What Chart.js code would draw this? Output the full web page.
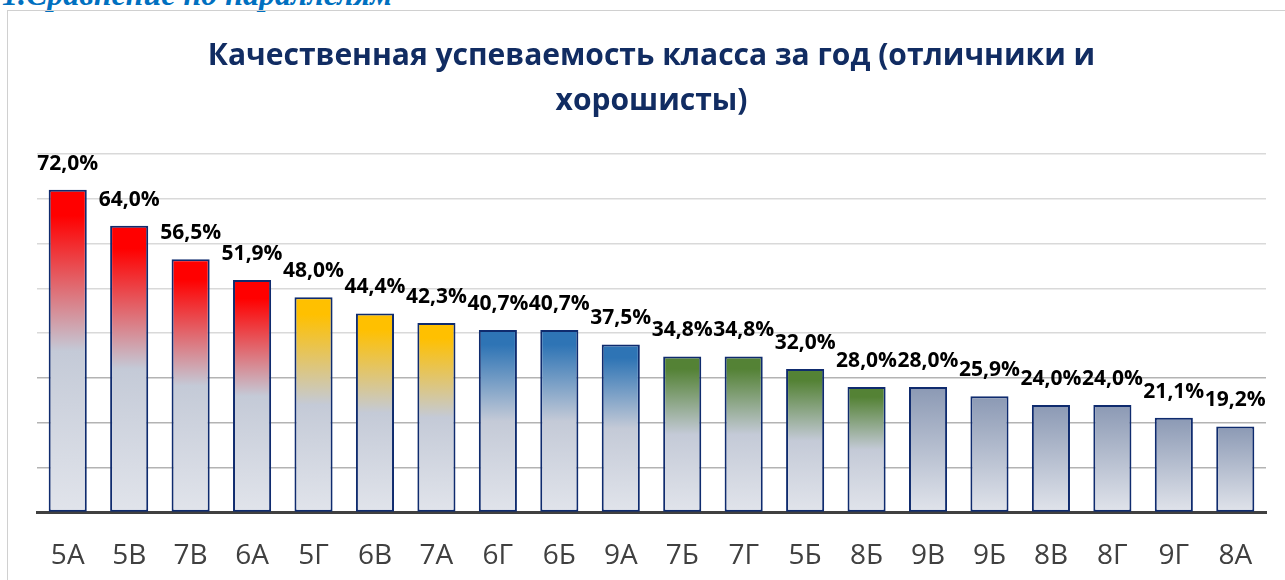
<!DOCTYPE html>
<html lang="ru">
<head>
<meta charset="utf-8">
<title>Качественная успеваемость</title>
<script src="https://cdn.jsdelivr.net/npm/chart.js@4"></script>
<style>
  html, body { margin: 0; padding: 0; background: #fff; overflow: hidden; }
  body { width: 1285px; height: 580px; position: relative; }
  .heading {
    position: absolute; left: 2px; top: -24px;
    font: italic bold 32px "Liberation Serif", serif;
    color: #0070c0; white-space: nowrap;
  }
  .frame {
    position: absolute; left: 7px; top: 10px; width: 1300px; height: 600px;
    border: 1.5px solid #d0d0d0; box-sizing: border-box;
  }
  .wrap { position: absolute; left: 8px; top: 11px; width: 1277px; height: 581px; }
</style>
</head>
<body>
<div class="heading">1.Сравнение по параллелям</div>
<div class="frame"></div>
<div class="wrap"><canvas id="qualityChart"></canvas></div>
<script>
// классы по убыванию качества знаний
const classes = ['5А', '5В', '7В', '6А', '5Г', '6В', '7А', '6Г', '6Б', '9А',
                 '7Б', '7Г', '5Б', '8Б', '9В', '9Б', '8В', '8Г', '9Г', '8А'];
const quality = [72.0, 64.0, 56.5, 51.9, 48.0, 44.4, 42.3, 40.7, 40.7, 37.5,
                 34.8, 34.8, 32.0, 28.0, 28.0, 25.9, 24.0, 24.0, 21.1, 19.2];
// группа цвета для каждого класса
const bands = ['red', 'red', 'red', 'red', 'yellow', 'yellow', 'yellow', 'blue', 'blue', 'blue',
               'green', 'green', 'green', 'green', 'gray', 'gray', 'gray', 'gray', 'gray', 'gray'];
const yTicks = [0, 10, 20, 30, 40, 50, 60, 70, 80];

const bandTop = {
  red: '#ff0000',
  yellow: '#ffc000',
  blue: '#2e74b5',
  green: '#548235',
  gray: '#8b99b4'
};

function fmt(v) {
  return v.toFixed(1).replace('.', ',') + '%';
}

// градиент сверху вниз: цвет группы -> серо-голубой
function barFill(context) {
  const chart = context.chart;
  if (!chart.chartArea) return bandTop[bands[context.dataIndex]];
  const y = chart.scales.y;
  const top = y.getPixelForValue(context.raw);
  const bottom = y.getPixelForValue(0);
  const g = chart.ctx.createLinearGradient(0, top, 0, bottom);
  const band = bands[context.dataIndex];
  g.addColorStop(0, bandTop[band]);
  if (band !== 'gray') {
    g.addColorStop(0.08, bandTop[band]);
    g.addColorStop(0.5, '#c4cad7');
  }
  g.addColorStop(1, '#e1e4eb');
  return g;
}

// подписи значений над столбцами
const valueLabels = {
  id: 'valueLabels',
  afterDatasetsDraw(chart) {
    const ctx = chart.ctx;
    const meta = chart.getDatasetMeta(0);
    ctx.save();
    ctx.font = 'bold 21px "Open Sans", sans-serif';
    ctx.fillStyle = '#000';
    ctx.textAlign = 'center';
    ctx.textBaseline = 'middle';
    meta.data.forEach((bar, i) => {
      ctx.fillText(fmt(quality[i]), bar.x, bar.y - 26);
    });
    ctx.restore();
  }
};

new Chart(document.getElementById('qualityChart'), {
  type: 'bar',
  data: {
    labels: classes,
    datasets: [{
      data: quality,
      backgroundColor: barFill,
      borderColor: '#0f2b6e',
      borderWidth: 2,
      borderSkipped: false,
      categoryPercentage: 1,
      barPercentage: 0.62
    }]
  },
  options: {
    responsive: true,
    maintainAspectRatio: false,
    animation: false,
    layout: { padding: { left: 29, right: 19, top: 0, bottom: 0 } },
    plugins: {
      legend: { display: false },
      tooltip: { enabled: false },
      title: {
        display: true,
        text: ['Качественная успеваемость класса за год (отличники и', 'хорошисты)'],
        color: '#112c62',
        font: { family: '"Open Sans", sans-serif', size: 30, weight: 'bold', lineHeight: 1.5 },
        padding: { top: 23, bottom: 30 }
      }
    },
    scales: {
      x: {
        z: 1,
        grid: { display: false },
        border: { display: true, color: '#404040', width: 3 },
        ticks: {
          color: '#404040',
          padding: 19,
          font: { family: '"Open Sans", sans-serif', size: 28 }
        }
      },
      y: {
        min: 0,
        max: 80,
        afterBuildTicks(scale) {
          scale.ticks = yTicks.map(v => ({ value: v }));
        },
        ticks: { display: false },
        border: { display: false },
        grid: {
          drawTicks: false,
          lineWidth: 1.5,
          color: ctx => ctx.tick && ctx.tick.value >= 40 ? '#d9d9d9' : '#b3b3b3'
        }
      }
    }
  },
  plugins: [valueLabels]
});
</script>
</body>
</html>
